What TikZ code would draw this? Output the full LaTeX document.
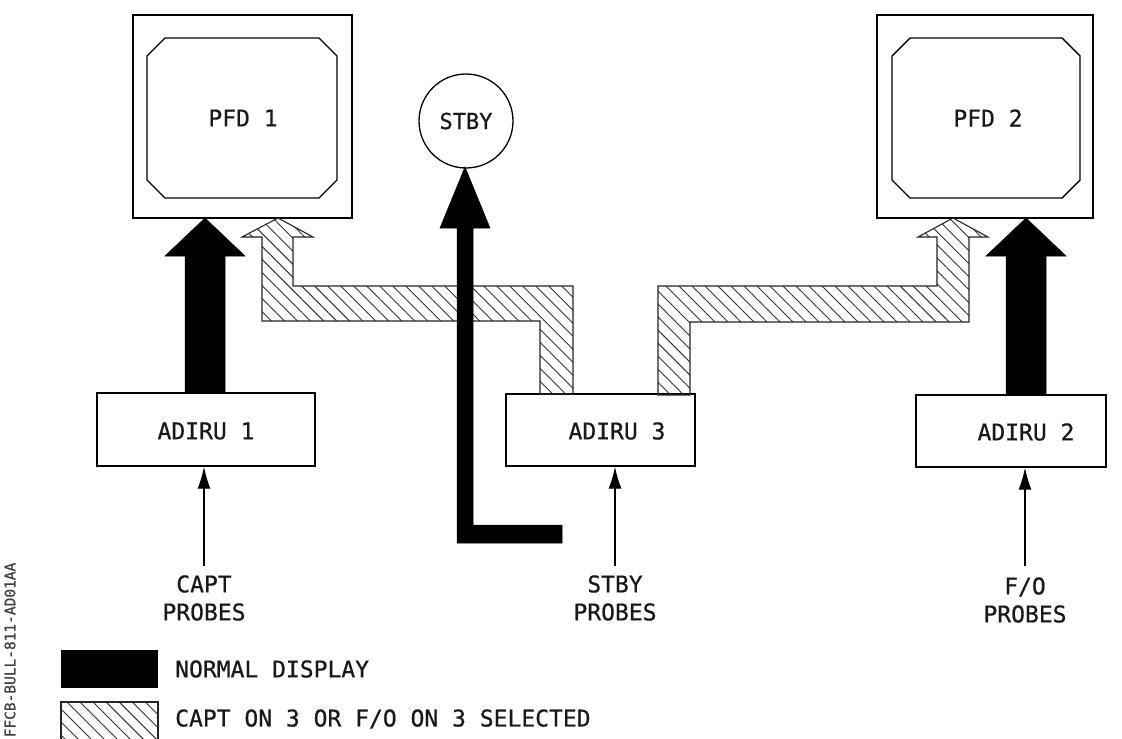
\documentclass[tikz,border=0pt]{standalone}
\usepackage{fontspec}
\newfontfamily\dmono[UprightFeatures={FakeBold=0.6}]{DejaVu Sans Mono}
\usetikzlibrary{patterns.meta,arrows.meta,calc}
\begin{document}
\begin{tikzpicture}[x=1pt,y=-1pt,
  box/.style={draw,line width=1.4pt,rectangle,inner sep=0pt},
  lbl/.style={font=\dmono\fontsize{23}{28}\selectfont,inner sep=0pt,align=center,text=black!90},
  screenline/.style={draw,line width=1.4pt},
  solidarrow/.style={fill=black,draw=black,line width=0.5pt},
  hatcharrow/.style={draw=black!85,line width=1.1pt,
    pattern={Lines[angle=-45,distance=9.2pt,line width=0.9pt]},pattern color=black!80},
  thinarrow/.style={draw,line width=1.3pt,-{Latex[length=22pt,width=13pt]}},
]
\useasboundingbox (0,0) rectangle (1122,739);
\fill[white] (0,0) rectangle (1122,739);

% ---- PFD 1
\node[box,minimum width=219pt,minimum height=203pt] (pfd1) at (242.5,116.5) {};
\draw[screenline] (165,38) -- (319,38) -- (337,56) -- (337,180) -- (319,198) -- (165,198) -- (147,180) -- (147,56) -- cycle;
\node[lbl] (pfd1t) at (243,118) {PFD 1};

% ---- PFD 2
\node[box,minimum width=216pt,minimum height=203pt] (pfd2) at (985,116.5) {};
\draw[screenline] (910,38) -- (1062,38) -- (1080,56) -- (1080,180) -- (1062,198) -- (910,198) -- (892,180) -- (892,56) -- cycle;
\node[lbl] (pfd2t) at (988,118) {PFD 2};

% ---- STBY
\node[draw,circle,line width=1.3pt,minimum size=94pt,inner sep=0pt,font=\dmono\fontsize{22}{26}\selectfont,text=black!90] (stby) at (466,121) {STBY};

% ---- ADIRUs
\node[box,minimum width=218pt,minimum height=73pt] (adiru1) at (206,429.5) {};
\node[lbl] (adiru1t) at (206,431) {ADIRU 1};
\node[box,minimum width=189pt,minimum height=72pt] (adiru3) at (600.5,430) {};
\node[lbl] (adiru3t) at (617,431) {ADIRU 3};
\node[box,minimum width=190pt,minimum height=72pt] (adiru2) at (1011,431) {};
\node[lbl] (adiru2t) at (1026,432) {ADIRU 2};

% ---- hatched paths (CAPT ON 3 / F/O ON 3)
\draw[hatcharrow] (278,218) -- (313,237) -- (293,237) -- (293,286) -- (573,286) -- (573,394)
  -- (540,394) -- (540,321) -- (262,321) -- (262,237) -- (242,237) -- cycle;
\draw[hatcharrow] (953,218) -- (988,237) -- (969,237) -- (969,322) -- (690,322) -- (690,395)
  -- (658,395) -- (658,286) -- (937,286) -- (937,237) -- (918,237) -- cycle;

% ---- black arrows (normal display)
\draw[solidarrow] (205,218) -- (245,256) -- (225,256) -- (225,393) -- (185,393) -- (185,256) -- (165,256) -- cycle;
\draw[solidarrow] (1026,218) -- (1066,256) -- (1046,256) -- (1046,395) -- (1006,395) -- (1006,256) -- (986,256) -- cycle;
\draw[solidarrow] (465,167) -- (490,228) -- (473,228) -- (473,525) -- (562,525) -- (562,543) -- (457,543) -- (457,228) -- (440,228) -- cycle;

% ---- probes
\node[lbl] (capt) at (204,598) {CAPT\\PROBES};
\node[lbl] (stbyp) at (615,598) {STBY\\PROBES};
\node[lbl] (fo) at (1025,600) {F/O\\PROBES};
\draw[thinarrow] ([yshift=9pt]capt.north) -- (capt.north |- adiru1.south);
\draw[thinarrow] ([yshift=9pt]stbyp.north) -- (stbyp.north |- adiru3.south);
\draw[thinarrow] ([yshift=11pt]fo.north) -- (fo.north |- adiru2.south);

% ---- legend
\node[fill=black,minimum width=97pt,minimum height=38pt,inner sep=0pt] (legn) at (109.5,669) {};
\node[lbl,anchor=west] (legnt) at (175,669) {NORMAL DISPLAY};
\draw[hatcharrow] (61,702) rectangle (158,745);
\node[lbl,anchor=west] (leght) at (175,719) {CAPT ON 3 OR F/O ON 3 SELECTED};

% ---- side reference
\node[font=\dmono\fontsize{14.5}{16}\selectfont,rotate=90,inner sep=0pt,text=black!75] (ref) at (10,650) {FFCB-BULL-811-AD01AA};
\end{tikzpicture}
\end{document}
